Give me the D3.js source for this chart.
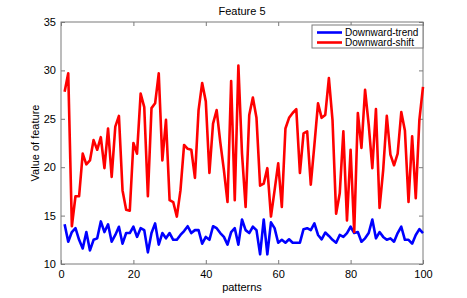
<!DOCTYPE html>
<html>
<head>
<meta charset="utf-8">
<script src="https://cdn.jsdelivr.net/npm/d3@7"></script>
<style>
    body { margin: 0; background: #fff; }
    text { font-family: "Liberation Sans", Arial, sans-serif; fill: #000; }
</style>
</head>
<body>
<div id="chart"></div>
<script>
'use strict';

// values, pattern 1..100
const trendValues = [
    14.1, 12.3, 13.3, 13.7, 12.5, 11.6, 13.3, 11.4, 12.5, 12.65,
    14.4, 13.3, 14.1, 12.3, 13.0, 13.85, 12.1, 13.2, 13.2, 13.85,
    12.8, 13.7, 13.5, 11.2, 13.2, 14.2, 12.0, 13.2, 12.65, 13.2,
    12.5, 12.5, 13.0, 13.4, 13.9, 13.2, 13.5, 13.5, 12.1, 12.8,
    12.5, 13.9, 13.7, 13.2, 12.8, 12.0, 13.3, 13.7, 12.0, 14.6,
    13.5, 13.2, 13.85, 13.5, 11.0, 14.6, 11.0, 14.3, 13.7, 12.2,
    12.5, 12.2, 12.55, 12.2, 12.2, 12.2, 13.6, 13.7, 13.5, 14.2,
    13.0, 12.55, 13.25, 12.9, 12.5, 12.2, 13.0, 12.8, 13.2, 13.85,
    13.2, 13.3, 12.3, 12.65, 13.2, 14.6, 12.65, 13.3, 12.8, 12.5,
    12.65, 12.3, 13.2, 13.85, 12.5, 12.5, 12.1, 13.0, 13.6, 13.2
];

const shiftValues = [
    27.8, 29.7, 13.9, 17.0, 17.0, 21.4, 20.3, 20.7, 22.8, 21.8,
    23.1, 19.9, 24.0, 19.0, 24.2, 25.3, 17.6, 15.6, 15.5, 22.5,
    21.4, 27.6, 26.2, 17.0, 26.1, 26.6, 29.7, 20.7, 24.9, 16.6,
    16.4, 14.9, 17.6, 22.3, 21.9, 21.8, 18.9, 25.9, 28.7, 26.8,
    19.4, 24.5, 25.9, 22.6, 19.7, 16.4, 28.9, 16.6, 30.5, 21.4,
    15.9, 25.4, 27.2, 25.1, 18.1, 18.3, 19.9, 14.9, 17.6, 20.4,
    15.9, 24.0, 25.1, 25.6, 26.0, 19.4, 23.5, 23.7, 18.2, 22.3,
    26.6, 25.1, 25.4, 29.2, 24.9, 15.2, 17.3, 23.7, 14.5, 21.8,
    13.3, 25.6, 22.0, 28.0, 24.4, 19.9, 26.0, 15.8, 19.7, 25.3,
    21.3, 20.2, 21.4, 25.7, 23.8, 16.4, 23.2, 16.8, 24.9, 28.3
];

const xTicks = [0, 20, 40, 60, 80, 100];
const yTicks = [10, 15, 20, 25, 30, 35];
const seriesNames = ['Downward-trend', 'Downward-shift'];
const seriesColors = ['#0000ff', '#ff0000'];

const width = 467, height = 298;
const margin = {top: 22, right: 44, bottom: 34, left: 61};
const w = width - margin.left - margin.right;
const h = height - margin.top - margin.bottom;

const svg = d3.select('#chart').append('svg')
    .attr('width', width)
    .attr('height', height);

const g = svg.append('g')
    .attr('transform', 'translate(' + margin.left + ',' + margin.top + ')');

const x = d3.scaleLinear().domain([0, 100]).range([0, w]);
const y = d3.scaleLinear().domain([10, 35]).range([h, 0]);

// MATLAB-like box with inward ticks on all sides
const axisColor = '#7a7a7a';

function styleAxis(sel) {
    sel.select('.domain').remove();
    sel.selectAll('.tick line').attr('stroke', axisColor);
    sel.selectAll('.tick text')
        .style('font-size', '11px')
        .attr('fill', '#000');
}

g.append('g')
    .attr('transform', 'translate(0,' + h + ')')
    .call(d3.axisBottom(x).tickValues(xTicks).tickSizeInner(-4).tickSizeOuter(0).tickPadding(6))
    .call(styleAxis);

g.append('g')
    .call(d3.axisTop(x).tickValues(xTicks).tickSizeInner(-4).tickSizeOuter(0).tickFormat(''))
    .call(styleAxis);

g.append('g')
    .call(d3.axisLeft(y).tickValues(yTicks).tickSizeInner(-4).tickSizeOuter(0).tickPadding(5))
    .call(styleAxis);

g.append('g')
    .attr('transform', 'translate(' + w + ',0)')
    .call(d3.axisRight(y).tickValues(yTicks).tickSizeInner(-4).tickSizeOuter(0).tickFormat(''))
    .call(styleAxis);

g.append('rect')
    .attr('width', w)
    .attr('height', h)
    .attr('fill', 'none')
    .attr('stroke', axisColor)
    .attr('stroke-width', 1);

// lines
const line = d3.line()
    .x(function (d, i) { return x(i + 1); })
    .y(function (d) { return y(d); });

[trendValues, shiftValues].forEach(function (values, k) {
    g.append('path')
        .datum(values)
        .attr('d', line)
        .attr('fill', 'none')
        .attr('stroke', seriesColors[k])
        .attr('stroke-width', 2.6)
        .attr('stroke-linejoin', 'round');
});

// title and labels
svg.append('text')
    .attr('x', margin.left + w / 2)
    .attr('y', 15)
    .attr('text-anchor', 'middle')
    .style('font-size', '11px')
    .text('Feature 5');

svg.append('text')
    .attr('x', margin.left + w / 2)
    .attr('y', 291)
    .attr('text-anchor', 'middle')
    .style('font-size', '11px')
    .text('patterns');

svg.append('text')
    .attr('transform', 'translate(39,' + (margin.top + h / 2) + ') rotate(-90)')
    .attr('text-anchor', 'middle')
    .style('font-size', '11px')
    .text('Value of feature');

// legend
const legend = g.append('g')
    .attr('transform', 'translate(' + (w - 111) + ',3)');

legend.append('rect')
    .attr('width', 111)
    .attr('height', 23)
    .attr('fill', '#fff')
    .attr('stroke', axisColor);

seriesNames.forEach(function (name, k) {
    let ly = 7.5 + k * 10;
    legend.append('line')
        .attr('x1', 5).attr('x2', 30)
        .attr('y1', ly).attr('y2', ly)
        .attr('stroke', seriesColors[k])
        .attr('stroke-width', 2.6);
    legend.append('text')
        .attr('x', 33)
        .attr('y', ly + 3.5)
        .style('font-size', '10px')
        .text(name);
});
</script>
</body>
</html>
